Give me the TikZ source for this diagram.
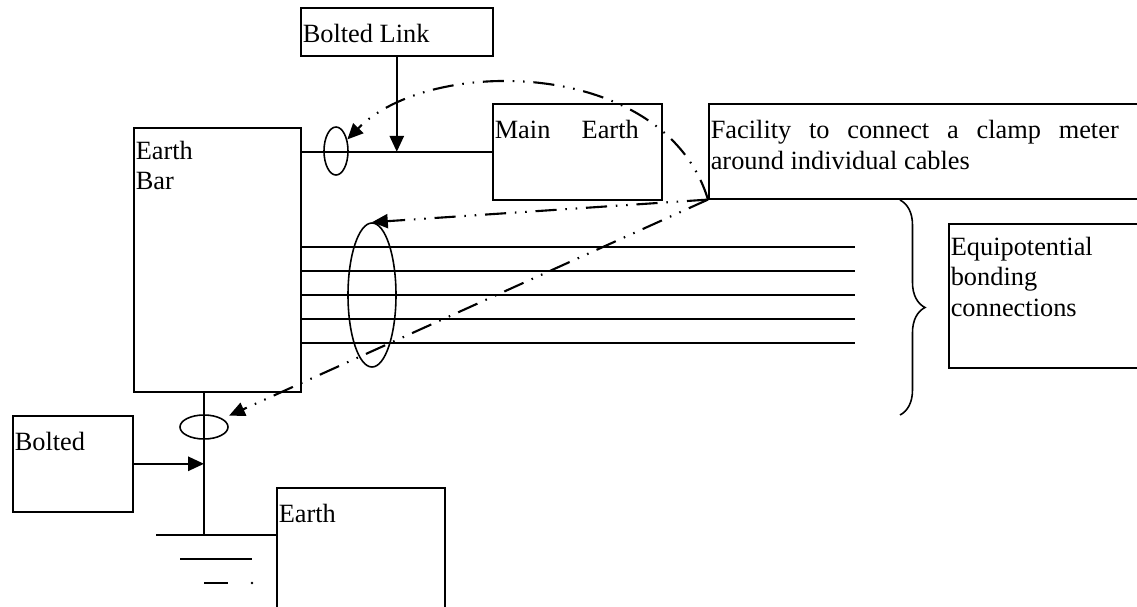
\documentclass[tikz,border=0pt]{standalone}
\usepackage{fontspec}
\setmainfont{Liberation Serif}
\usetikzlibrary{arrows.meta, shapes.geometric, decorations.pathreplacing}

\begin{document}
\begin{tikzpicture}[x=0.02cm, y=-0.02cm, line width=0.9pt,
  every node/.style={font=\fontsize{15}{17.5}\selectfont},
  panel/.style n args={2}{draw, anchor=north west, inner sep=0pt,
    minimum width=#1*0.02cm, minimum height=#2*0.02cm},
  caption/.style={anchor=north west, inner sep=0pt, align=left,
    execute at begin node=\strut},
  ring/.style n args={2}{draw, ellipse, inner sep=0pt,
    minimum width=#1*0.02cm, minimum height=#2*0.02cm},
  feed/.style={-{Triangle[length=9pt, width=8pt]}, line width=1.3pt},
  probe/.style={-{Triangle[length=9pt, width=8pt]}, line width=1.2pt,
    dash pattern=on 12pt off 5pt on 0.9pt off 5pt on 0.9pt off 5pt}]
  \useasboundingbox (0,0) rectangle (1137,606);
  \clip (0,0) rectangle (1137,606);

  % boxes
  \node[panel={192}{48}]  (link)  at (300,7)   {};
  \node[panel={169}{96}]  (mainE) at (492,103) {};
  \node[panel={440}{95}]  (fac)   at (708,103) {};
  \node[panel={167}{264}] (bar)   at (133,127) {};
  \node[panel={200}{144}] (equi)  at (948,223) {};
  \node[panel={120}{96}]  (bolt)  at (12,415)  {};
  \node[panel={168}{140}] (earth) at (276,487) {};

  \node[caption] at ([shift={(2,13)}]link.north west) {Bolted Link};
  \node[caption] at ([shift={(2,13)}]mainE.north west) {\hbox to 2.88cm{Main\hfill Earth}};
  \node[caption, text width=8.16cm, align=justify] at ([shift={(2,13)}]fac.north west)
    {Facility to connect a clamp meter\linebreak around individual cables};
  \node[caption] at ([shift={(2,13)}]bar.north west) {Earth\\Bar};
  \node[caption] at ([shift={(2,13)}]equi.north west) {Equipotential\\bonding\\connections};
  \node[caption] at ([shift={(2,13)}]bolt.north west) {Bolted};
  \node[caption] at ([shift={(2,13)}]earth.north west) {Earth};

  % clamp rings
  \node[ring={24}{48}]  (ringA) at (336,151) {};
  \node[ring={48}{144}] (ringC) at (372,295) {};
  \node[ring={48}{24}]  (ringB) at (204,427) {};

  % conductors
  \draw (bar.east |- mainE.west) -- (mainE.west);
  \draw[feed] (link.south) -- (link.south |- mainE.west);
  \foreach \y in {247,271,295,319,343}
    \draw (bar.east |- 0,\y) -- ++(553,0);
  \coordinate (gnd) at (204,535);
  \draw (ringB |- bar.south) -- (gnd);
  \draw[feed] (bolt.east) -- (bolt.east -| gnd);
  \draw (gnd) ++(-48,0) -- (gnd -| earth.west);
  \draw (gnd) ++(-24,24) -- ++(72,0);
  \draw (gnd) ++(0,48) -- ++(24,0);
  \fill (gnd) ++(48,48) circle[radius=0.8pt];

  % clamp meter positions
  \draw[probe] (fac.south west) .. controls (665,58) and (430,55) .. (ringA);
  \draw[probe] (fac.south west) -- (ringC.north);
  \draw[probe, shorten >=4pt] (fac.south west) -- (ringB);

  \draw[decorate, decoration={brace, amplitude=0.5cm}] (900,200) -- (900,415);
\end{tikzpicture}
\end{document}
